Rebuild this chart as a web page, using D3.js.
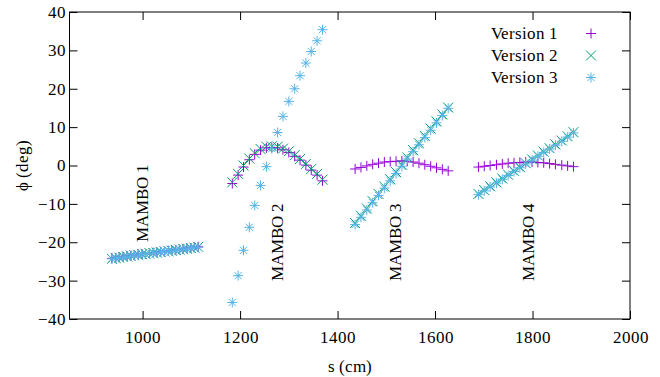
<!DOCTYPE html>
<html><head><meta charset="utf-8">
<script src="https://cdn.jsdelivr.net/npm/d3@7"></script>
<style>
@font-face{font-family:"ChartSerif";src:local("Liberation Serif"),local("LiberationSerif"),local("LiberationSerif-Regular");}
body{margin:0;background:#fff}svg{display:block}
svg text{font-family:"ChartSerif","Liberation Serif",serif !important;font-size:17px}
</style>
</head><body><svg id="c" width="660" height="377"></svg>
<script>
// ---- data ----
const xTicks = [1000, 1200, 1400, 1600, 1800, 2000];
const yTicks = [-40, -30, -20, -10, 0, 10, 20, 30, 40];
const seriesNames = ["Version 1", "Version 2", "Version 3"];
const seriesColors = ["#9400d3", "#009e73", "#56b4e9"];
const seriesSymbols = ["plus", "cross", "star"];

const s1 = [937,945,952,960,968,976,983,991,999,1006,1014,1022,1029,1037,1045,1053,1060,1068,1076,1083,1091,1099,1106,1114];
const m1v1 = [-24.2,-24.1,-23.9,-23.8,-23.6,-23.5,-23.4,-23.2,-23.1,-23.0,-22.9,-22.7,-22.6,-22.5,-22.4,-22.2,-22.1,-22.0,-21.9,-21.7,-21.6,-21.5,-21.3,-21.2];
const m1v2 = [-24.3,-24.1,-24.0,-23.8,-23.7,-23.5,-23.4,-23.3,-23.1,-23.0,-22.9,-22.8,-22.7,-22.5,-22.4,-22.3,-22.2,-22.0,-21.9,-21.8,-21.7,-21.5,-21.4,-21.2];
const m1v3 = [-24.3,-24.2,-24.0,-23.9,-23.7,-23.6,-23.4,-23.3,-23.2,-23.0,-22.9,-22.8,-22.7,-22.6,-22.4,-22.3,-22.2,-22.1,-21.9,-21.8,-21.7,-21.6,-21.4,-21.3];

const s2 = [1184,1196,1207,1219,1230,1242,1254,1265,1277,1288,1300,1312,1323,1335,1346,1358,1369];
const m2v1 = [-4.7,-2.5,-0.4,1.5,2.9,4.0,4.6,4.7,4.6,4.1,3.4,2.4,1.4,0.1,-1.2,-2.5,-4.0];
const m2v2 = [-4.4,-2.2,0.0,1.8,3.2,4.3,4.9,5.0,4.9,4.4,3.7,2.7,1.7,0.4,-0.9,-2.2,-3.7];
const m2v3 = [-35.7,-28.7,-22.1,-16.1,-10.4,-5.2,-0.3,4.4,8.6,12.8,16.7,20.0,23.4,26.7,29.7,32.5,35.4];

const s3 = [1436,1448,1460,1472,1484,1496,1508,1520,1532,1543,1555,1567,1579,1591,1603,1615,1627];
const m3v1 = [-0.9,-0.5,-0.1,0.3,0.6,0.9,1.0,1.1,1.2,1.1,0.9,0.6,0.2,-0.2,-0.6,-1.0,-1.4];
const m3v2 = [-15.0,-13.1,-11.2,-9.3,-7.4,-5.5,-3.6,-1.7,0.2,2.1,4.0,5.8,7.7,9.6,11.5,13.3,15.1];
const m3v3 = [-15.4,-13.5,-11.6,-9.7,-7.8,-5.9,-4.0,-2.1,-0.2,1.7,3.6,5.4,7.3,9.2,11.1,13.0,14.9];

const s4 = [1689,1701,1713,1726,1738,1750,1762,1774,1786,1799,1811,1823,1835,1847,1860,1872,1884];
const m4v1 = [-0.4,-0.2,0.0,0.2,0.4,0.6,0.7,0.8,0.9,0.9,0.8,0.7,0.5,0.3,0.1,-0.1,-0.3];
const m4v2 = [-7.4,-6.4,-5.4,-4.4,-3.4,-2.4,-1.4,-0.4,0.6,1.6,2.6,3.6,4.5,5.5,6.5,7.6,8.7];
const m4v3 = [-7.6,-6.6,-5.6,-4.6,-3.6,-2.6,-1.6,-0.6,0.4,1.4,2.4,3.4,4.3,5.3,6.3,7.4,8.5];

const labelNames = ["MAMBO 1", "MAMBO 2", "MAMBO 3", "MAMBO 4"];
const labelS = [999, 1276, 1518, 1791];
const labelPhi = [-20, -30, -30, -30];

// ---- build ----
const FONT = "ChartSerif, Liberation Serif, serif";
const FS = "17px";
const clusters = [
  [s1, [m1v1, m1v2, m1v3]],
  [s2, [m2v1, m2v2, m2v3]],
  [s3, [m3v1, m3v2, m3v3]],
  [s4, [m4v1, m4v2, m4v3]]
];

const svg = d3.select("#c");
const L = 69.5, R = 630, T = 12, B = 319;
const x = d3.scaleLinear().domain([850, 2000]).range([L, R]);
const y = d3.scaleLinear().domain([-40, 40]).range([B, T]);

function styleText(sel) {
  return sel.attr("font-family", FONT).attr("font-size", FS).attr("fill", "#000");
}

function symPath(type, r) {
  if (type === "plus") return `M${-r},0H${r}M0,${-r}V${r}`;
  if (type === "cross") return `M${-r},${-r}L${r},${r}M${-r},${r}L${r},${-r}`;
  const d = r * 0.72;
  return `M${-r},0H${r}M0,${-r}V${r}M${-d},${-d}L${d},${d}M${-d},${d}L${d},${-d}`;
}

// axes (ticks inward, mirrored)
const tl = 8;
const fmt = d3.format("d");
const gx = svg.append("g").attr("transform", `translate(0,${B})`)
  .call(d3.axisBottom(x).tickValues(xTicks).tickSize(-tl).tickPadding(12).tickFormat(fmt));
const gx2 = svg.append("g").attr("transform", `translate(0,${T})`)
  .call(d3.axisTop(x).tickValues(xTicks).tickSize(-tl).tickFormat(""));
const gy = svg.append("g").attr("transform", `translate(${L},0)`)
  .call(d3.axisLeft(y).tickValues(yTicks).tickSize(-tl).tickPadding(6).tickFormat(fmt));
const gy2 = svg.append("g").attr("transform", `translate(${R},0)`)
  .call(d3.axisRight(y).tickValues(yTicks).tickSize(-tl).tickFormat(""));
[gx, gx2, gy, gy2].forEach(g => {
  g.attr("font-family", FONT).attr("font-size", FS);
  g.select(".domain").remove();
  g.selectAll("line").attr("stroke", "#000").attr("stroke-width", 1);
  styleText(g.selectAll("text"));
});
gy.selectAll("text").attr("dx", "2");
svg.append("rect").attr("x", L).attr("y", T).attr("width", R - L).attr("height", B - T)
  .attr("fill", "none").attr("stroke", "#000").attr("stroke-width", 1);

// axis titles
styleText(svg.append("text").attr("x", (L + R) / 2).attr("y", 372).attr("text-anchor", "middle")).text("s (cm)");
styleText(svg.append("text").attr("transform", `translate(28,${(T + B) / 2}) rotate(-90)`)
  .attr("text-anchor", "middle")).text("ϕ (deg)");

// points
const plot = svg.append("g");
for (let v = 0; v < 3; v++) {
  const pts = [];
  clusters.forEach(([ss, vals]) => ss.forEach((s, i) => pts.push([s, vals[v][i]])));
  plot.append("g").selectAll("path").data(pts).join("path")
    .attr("transform", d => `translate(${x(d[0])},${y(d[1])})`)
    .attr("d", symPath(seriesSymbols[v], 5))
    .attr("fill", "none").attr("stroke", seriesColors[v]).attr("stroke-width", 1);
}

// labels
labelNames.forEach((t, i) => {
  styleText(svg.append("text")
    .attr("transform", `translate(${x(labelS[i])},${y(labelPhi[i])}) rotate(-90)`)
    .attr("dy", "0.35em").attr("text-anchor", "start")).text(t);
});

// legend
seriesNames.forEach((n, i) => {
  const yy = 33.5 + i * 22;
  styleText(svg.append("text").attr("x", 558).attr("y", yy).attr("text-anchor", "end")
    .attr("dy", "0.35em")).text(n);
  svg.append("path").attr("transform", `translate(591,${yy})`)
    .attr("d", symPath(seriesSymbols[i], 5)).attr("fill", "none")
    .attr("stroke", seriesColors[i]).attr("stroke-width", 1);
});
</script></body></html>
